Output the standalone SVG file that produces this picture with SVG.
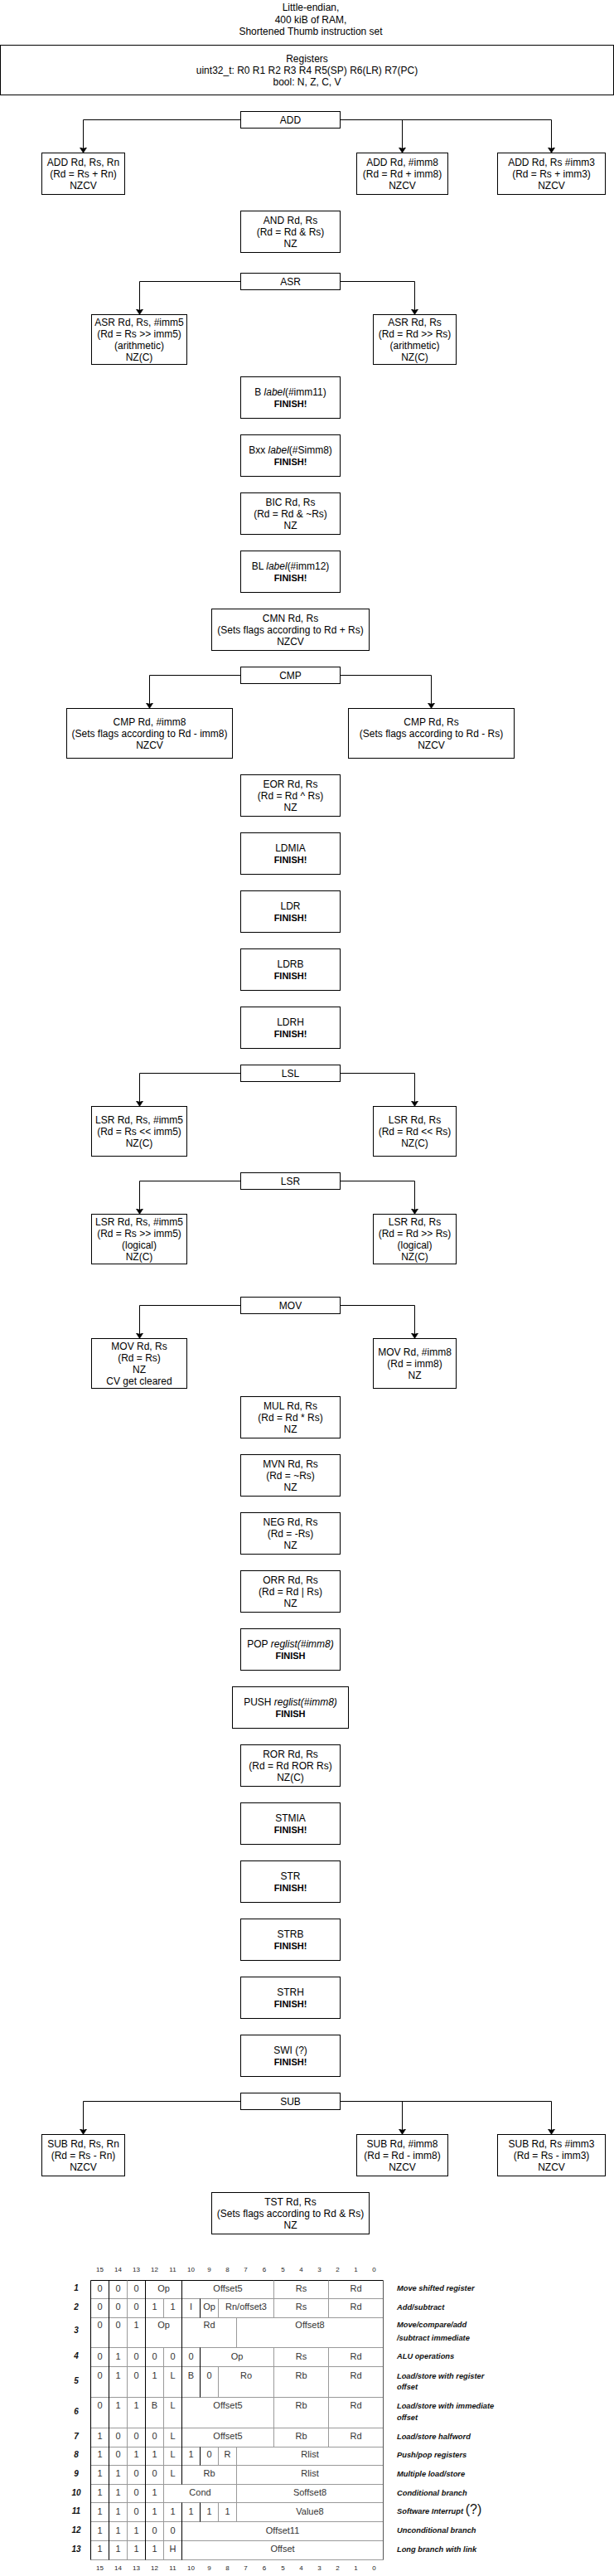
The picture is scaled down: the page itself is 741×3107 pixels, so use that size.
<svg xmlns="http://www.w3.org/2000/svg" width="741" height="3107" viewBox="0 0 741 3107">
<defs>
<marker id="arr" markerUnits="userSpaceOnUse" markerWidth="8" markerHeight="10" refX="7" refY="4.5" orient="auto">
<path d="M0,0 L7,4.5 L0,9 L1.75,4.5 Z" fill="#000" stroke="#000" stroke-width="0.5"/>
</marker>
</defs>
<style>
.box{fill:#fff;stroke:#000;stroke-width:1}
text{font-family:"Liberation Sans",Arial,sans-serif}
.t{font-size:12px;text-anchor:middle;fill:#000}
.f{font-weight:bold;font-size:11px}
.i{font-style:italic}
.conn{fill:none;stroke:#000;stroke-width:1;marker-end:url(#arr)}
.tb{fill:none;stroke:#000;stroke-width:1}
.tl{fill:none;stroke:#9a9a9a;stroke-width:1}
.tr{fill:none;stroke:#555;stroke-width:1}
.c{font-size:11px;text-anchor:middle;fill:#333}
.h{font-size:8px;text-anchor:middle;fill:#222}
.n{font-size:10px;font-weight:bold;font-style:italic;text-anchor:middle;fill:#111}
.d{font-size:9.3px;font-weight:bold;font-style:italic;fill:#111}
</style>
<rect width="741" height="3107" fill="#fff"/>

<g id="title">
<text class="t" x="375" y="13">Little-endian,</text>
<text class="t" x="375" y="27.5">400 kiB of RAM,</text>
<text class="t" x="375" y="42">Shortened Thumb instruction set</text>
</g>

<g id="registers">
<rect class="box" x="0.5" y="54.5" width="740" height="60"/>
<text class="t" x="370.5" y="74.5">Registers</text>
<text class="t" x="370.5" y="88.5">uint32_t: R0 R1 R2 R3 R4 R5(SP) R6(LR) R7(PC)</text>
<text class="t" x="370.5" y="102.5">bool: N, Z, C, V</text>
</g>

<g id="connectors">
<path class="conn" d="M290.5,144.5H100.5V184.5"/>
<path class="conn" d="M410.5,144.5H485.5V184.5"/>
<path class="conn" d="M410.5,144.5H665.5V184.5"/>
<path class="conn" d="M290.5,339.5H168.5V379.5"/>
<path class="conn" d="M410.5,339.5H500.5V379.5"/>
<path class="conn" d="M290.5,814.5H180.5V854.5"/>
<path class="conn" d="M410.5,814.5H520.5V854.5"/>
<path class="conn" d="M290.5,1294.5H168.5V1334.5"/>
<path class="conn" d="M410.5,1294.5H500.5V1334.5"/>
<path class="conn" d="M290.5,1424.5H168.5V1464.5"/>
<path class="conn" d="M410.5,1424.5H500.5V1464.5"/>
<path class="conn" d="M290.5,1574.5H168.5V1614.5"/>
<path class="conn" d="M410.5,1574.5H500.5V1614.5"/>
<path class="conn" d="M290.5,2534.5H100.5V2574.5"/>
<path class="conn" d="M410.5,2534.5H485.5V2574.5"/>
<path class="conn" d="M410.5,2534.5H665.5V2574.5"/>
</g>

<g id="add">
<rect class="box" x="290.5" y="134.5" width="120" height="20"/>
<text class="t" x="350.5" y="148.5">ADD</text>
</g>
<g id="add-rrr">
<rect class="box" x="50.5" y="184.5" width="100" height="50"/>
<text class="t" x="100.5" y="199.5">ADD Rd, Rs, Rn</text>
<text class="t" x="100.5" y="213.5">(Rd = Rs + Rn)</text>
<text class="t" x="100.5" y="227.5">NZCV</text>
</g>
<g id="add-imm8">
<rect class="box" x="430.5" y="184.5" width="110" height="50"/>
<text class="t" x="485.5" y="199.5">ADD Rd, #imm8</text>
<text class="t" x="485.5" y="213.5">(Rd = Rd + imm8)</text>
<text class="t" x="485.5" y="227.5">NZCV</text>
</g>
<g id="add-imm3">
<rect class="box" x="600.5" y="184.5" width="130" height="50"/>
<text class="t" x="665.5" y="199.5">ADD Rd, Rs #imm3</text>
<text class="t" x="665.5" y="213.5">(Rd = Rs + imm3)</text>
<text class="t" x="665.5" y="227.5">NZCV</text>
</g>

<g id="and">
<rect class="box" x="290.5" y="254.5" width="120" height="50"/>
<text class="t" x="350.5" y="269.5">AND Rd, Rs</text>
<text class="t" x="350.5" y="283.5">(Rd = Rd &amp; Rs)</text>
<text class="t" x="350.5" y="297.5">NZ</text>
</g>

<g id="asr">
<rect class="box" x="290.5" y="329.5" width="120" height="20"/>
<text class="t" x="350.5" y="343.5">ASR</text>
</g>
<g id="asr-imm5">
<rect class="box" x="110.5" y="379.5" width="115" height="60"/>
<text class="t" x="168" y="392.5">ASR Rd, Rs, #imm5</text>
<text class="t" x="168" y="406.5">(Rd = Rs &gt;&gt; imm5)</text>
<text class="t" x="168" y="420.5">(arithmetic)</text>
<text class="t" x="168" y="434.5">NZ(C)</text>
</g>
<g id="asr-rs">
<rect class="box" x="450.5" y="379.5" width="100" height="60"/>
<text class="t" x="500.5" y="392.5">ASR Rd, Rs</text>
<text class="t" x="500.5" y="406.5">(Rd = Rd &gt;&gt; Rs)</text>
<text class="t" x="500.5" y="420.5">(arithmetic)</text>
<text class="t" x="500.5" y="434.5">NZ(C)</text>
</g>

<g id="b">
<rect class="box" x="290.5" y="454.5" width="120" height="50"/>
<text class="t" x="350.5" y="476.5">B <tspan class="i">label</tspan>(#imm11)</text>
<text class="t f" x="350.5" y="490.5">FINISH!</text>
</g>
<g id="bxx">
<rect class="box" x="290.5" y="524.5" width="120" height="50"/>
<text class="t" x="350.5" y="546.5">Bxx <tspan class="i">label</tspan>(#Simm8)</text>
<text class="t f" x="350.5" y="560.5">FINISH!</text>
</g>
<g id="bic">
<rect class="box" x="290.5" y="594.5" width="120" height="50"/>
<text class="t" x="350.5" y="609.5">BIC Rd, Rs</text>
<text class="t" x="350.5" y="623.5">(Rd = Rd &amp; ~Rs)</text>
<text class="t" x="350.5" y="637.5">NZ</text>
</g>
<g id="bl">
<rect class="box" x="290.5" y="664.5" width="120" height="50"/>
<text class="t" x="350.5" y="686.5">BL <tspan class="i">label</tspan>(#imm12)</text>
<text class="t f" x="350.5" y="700.5">FINISH!</text>
</g>
<g id="cmn">
<rect class="box" x="255.5" y="734.5" width="190" height="50"/>
<text class="t" x="350.5" y="749.5">CMN Rd, Rs</text>
<text class="t" x="350.5" y="763.5">(Sets flags according to Rd + Rs)</text>
<text class="t" x="350.5" y="777.5">NZCV</text>
</g>

<g id="cmp">
<rect class="box" x="290.5" y="804.5" width="120" height="20"/>
<text class="t" x="350.5" y="818.5">CMP</text>
</g>
<g id="cmp-imm8">
<rect class="box" x="80.5" y="854.5" width="200" height="60"/>
<text class="t" x="180.5" y="874.5">CMP Rd, #imm8</text>
<text class="t" x="180.5" y="888.5">(Sets flags according to Rd - imm8)</text>
<text class="t" x="180.5" y="902.5">NZCV</text>
</g>
<g id="cmp-rs">
<rect class="box" x="420.5" y="854.5" width="200" height="60"/>
<text class="t" x="520.5" y="874.5">CMP Rd, Rs</text>
<text class="t" x="520.5" y="888.5">(Sets flags according to Rd - Rs)</text>
<text class="t" x="520.5" y="902.5">NZCV</text>
</g>

<g id="eor">
<rect class="box" x="290.5" y="934.5" width="120" height="50"/>
<text class="t" x="350.5" y="949.5">EOR Rd, Rs</text>
<text class="t" x="350.5" y="963.5">(Rd = Rd ^ Rs)</text>
<text class="t" x="350.5" y="977.5">NZ</text>
</g>
<g id="ldmia">
<rect class="box" x="290.5" y="1004.5" width="120" height="50"/>
<text class="t" x="350.5" y="1026.5">LDMIA</text>
<text class="t f" x="350.5" y="1040.5">FINISH!</text>
</g>
<g id="ldr">
<rect class="box" x="290.5" y="1074.5" width="120" height="50"/>
<text class="t" x="350.5" y="1096.5">LDR</text>
<text class="t f" x="350.5" y="1110.5">FINISH!</text>
</g>
<g id="ldrb">
<rect class="box" x="290.5" y="1144.5" width="120" height="50"/>
<text class="t" x="350.5" y="1166.5">LDRB</text>
<text class="t f" x="350.5" y="1180.5">FINISH!</text>
</g>
<g id="ldrh">
<rect class="box" x="290.5" y="1214.5" width="120" height="50"/>
<text class="t" x="350.5" y="1236.5">LDRH</text>
<text class="t f" x="350.5" y="1250.5">FINISH!</text>
</g>

<g id="lsl">
<rect class="box" x="290.5" y="1284.5" width="120" height="20"/>
<text class="t" x="350.5" y="1298.5">LSL</text>
</g>
<g id="lsl-imm5">
<rect class="box" x="110.5" y="1334.5" width="115" height="60"/>
<text class="t" x="168" y="1354.5">LSR Rd, Rs, #imm5</text>
<text class="t" x="168" y="1368.5">(Rd = Rs &lt;&lt; imm5)</text>
<text class="t" x="168" y="1382.5">NZ(C)</text>
</g>
<g id="lsl-rs">
<rect class="box" x="450.5" y="1334.5" width="100" height="60"/>
<text class="t" x="500.5" y="1354.5">LSR Rd, Rs</text>
<text class="t" x="500.5" y="1368.5">(Rd = Rd &lt;&lt; Rs)</text>
<text class="t" x="500.5" y="1382.5">NZ(C)</text>
</g>

<g id="lsr">
<rect class="box" x="290.5" y="1414.5" width="120" height="20"/>
<text class="t" x="350.5" y="1428.5">LSR</text>
</g>
<g id="lsr-imm5">
<rect class="box" x="110.5" y="1464.5" width="115" height="60"/>
<text class="t" x="168" y="1477.5">LSR Rd, Rs, #imm5</text>
<text class="t" x="168" y="1491.5">(Rd = Rs &gt;&gt; imm5)</text>
<text class="t" x="168" y="1505.5">(logical)</text>
<text class="t" x="168" y="1519.5">NZ(C)</text>
</g>
<g id="lsr-rs">
<rect class="box" x="450.5" y="1464.5" width="100" height="60"/>
<text class="t" x="500.5" y="1477.5">LSR Rd, Rs</text>
<text class="t" x="500.5" y="1491.5">(Rd = Rd &gt;&gt; Rs)</text>
<text class="t" x="500.5" y="1505.5">(logical)</text>
<text class="t" x="500.5" y="1519.5">NZ(C)</text>
</g>

<g id="mov">
<rect class="box" x="290.5" y="1564.5" width="120" height="20"/>
<text class="t" x="350.5" y="1578.5">MOV</text>
</g>
<g id="mov-rs">
<rect class="box" x="110.5" y="1614.5" width="115" height="60"/>
<text class="t" x="168" y="1627.5">MOV Rd, Rs</text>
<text class="t" x="168" y="1641.5">(Rd = Rs)</text>
<text class="t" x="168" y="1655.5">NZ</text>
<text class="t" x="168" y="1669.5">CV get cleared</text>
</g>
<g id="mov-imm8">
<rect class="box" x="450.5" y="1614.5" width="100" height="60"/>
<text class="t" x="500.5" y="1634.5">MOV Rd, #imm8</text>
<text class="t" x="500.5" y="1648.5">(Rd = imm8)</text>
<text class="t" x="500.5" y="1662.5">NZ</text>
</g>

<g id="mul">
<rect class="box" x="290.5" y="1684.5" width="120" height="50"/>
<text class="t" x="350.5" y="1699.5">MUL Rd, Rs</text>
<text class="t" x="350.5" y="1713.5">(Rd = Rd * Rs)</text>
<text class="t" x="350.5" y="1727.5">NZ</text>
</g>
<g id="mvn">
<rect class="box" x="290.5" y="1754.5" width="120" height="50"/>
<text class="t" x="350.5" y="1769.5">MVN Rd, Rs</text>
<text class="t" x="350.5" y="1783.5">(Rd = ~Rs)</text>
<text class="t" x="350.5" y="1797.5">NZ</text>
</g>
<g id="neg">
<rect class="box" x="290.5" y="1824.5" width="120" height="50"/>
<text class="t" x="350.5" y="1839.5">NEG Rd, Rs</text>
<text class="t" x="350.5" y="1853.5">(Rd = -Rs)</text>
<text class="t" x="350.5" y="1867.5">NZ</text>
</g>
<g id="orr">
<rect class="box" x="290.5" y="1894.5" width="120" height="50"/>
<text class="t" x="350.5" y="1909.5">ORR Rd, Rs</text>
<text class="t" x="350.5" y="1923.5">(Rd = Rd | Rs)</text>
<text class="t" x="350.5" y="1937.5">NZ</text>
</g>
<g id="pop">
<rect class="box" x="290.5" y="1964.5" width="120" height="50"/>
<text class="t" x="350.5" y="1986.5">POP <tspan class="i">reglist(#imm8)</tspan></text>
<text class="t f" x="350.5" y="2000.5">FINISH</text>
</g>
<g id="push">
<rect class="box" x="280.5" y="2034.5" width="140" height="50"/>
<text class="t" x="350.5" y="2056.5">PUSH <tspan class="i">reglist(#imm8)</tspan></text>
<text class="t f" x="350.5" y="2070.5">FINISH</text>
</g>
<g id="ror">
<rect class="box" x="290.5" y="2104.5" width="120" height="50"/>
<text class="t" x="350.5" y="2119.5">ROR Rd, Rs</text>
<text class="t" x="350.5" y="2133.5">(Rd = Rd ROR Rs)</text>
<text class="t" x="350.5" y="2147.5">NZ(C)</text>
</g>
<g id="stmia">
<rect class="box" x="290.5" y="2174.5" width="120" height="50"/>
<text class="t" x="350.5" y="2196.5">STMIA</text>
<text class="t f" x="350.5" y="2210.5">FINISH!</text>
</g>
<g id="str">
<rect class="box" x="290.5" y="2244.5" width="120" height="50"/>
<text class="t" x="350.5" y="2266.5">STR</text>
<text class="t f" x="350.5" y="2280.5">FINISH!</text>
</g>
<g id="strb">
<rect class="box" x="290.5" y="2314.5" width="120" height="50"/>
<text class="t" x="350.5" y="2336.5">STRB</text>
<text class="t f" x="350.5" y="2350.5">FINISH!</text>
</g>
<g id="strh">
<rect class="box" x="290.5" y="2384.5" width="120" height="50"/>
<text class="t" x="350.5" y="2406.5">STRH</text>
<text class="t f" x="350.5" y="2420.5">FINISH!</text>
</g>
<g id="swi">
<rect class="box" x="290.5" y="2454.5" width="120" height="50"/>
<text class="t" x="350.5" y="2476.5">SWI (?)</text>
<text class="t f" x="350.5" y="2490.5">FINISH!</text>
</g>

<g id="sub">
<rect class="box" x="290.5" y="2524.5" width="120" height="20"/>
<text class="t" x="350.5" y="2538.5">SUB</text>
</g>
<g id="sub-rrr">
<rect class="box" x="50.5" y="2574.5" width="100" height="50"/>
<text class="t" x="100.5" y="2589.5">SUB Rd, Rs, Rn</text>
<text class="t" x="100.5" y="2603.5">(Rd = Rs - Rn)</text>
<text class="t" x="100.5" y="2617.5">NZCV</text>
</g>
<g id="sub-imm8">
<rect class="box" x="430.5" y="2574.5" width="110" height="50"/>
<text class="t" x="485.5" y="2589.5">SUB Rd, #imm8</text>
<text class="t" x="485.5" y="2603.5">(Rd = Rd - imm8)</text>
<text class="t" x="485.5" y="2617.5">NZCV</text>
</g>
<g id="sub-imm3">
<rect class="box" x="600.5" y="2574.5" width="130" height="50"/>
<text class="t" x="665.5" y="2589.5">SUB Rd, Rs #imm3</text>
<text class="t" x="665.5" y="2603.5">(Rd = Rs - imm3)</text>
<text class="t" x="665.5" y="2617.5">NZCV</text>
</g>

<g id="tst">
<rect class="box" x="255.5" y="2644.5" width="190" height="50"/>
<text class="t" x="350.5" y="2659.5">TST Rd, Rs</text>
<text class="t" x="350.5" y="2673.5">(Sets flags according to Rd &amp; Rs)</text>
<text class="t" x="350.5" y="2687.5">NZ</text>
</g>

<g id="thumb-table">
<g id="bits-top">
<text class="h" x="120.5" y="2739.6">15</text><text class="h" x="142.5" y="2739.6">14</text><text class="h" x="164.5" y="2739.6">13</text><text class="h" x="186.5" y="2739.6">12</text><text class="h" x="208.5" y="2739.6">11</text><text class="h" x="230.5" y="2739.6">10</text><text class="h" x="252.5" y="2739.6">9</text><text class="h" x="274.5" y="2739.6">8</text><text class="h" x="296.5" y="2739.6">7</text><text class="h" x="319" y="2739.6">6</text><text class="h" x="341.5" y="2739.6">5</text><text class="h" x="363.5" y="2739.6">4</text><text class="h" x="385.5" y="2739.6">3</text><text class="h" x="407.5" y="2739.6">2</text><text class="h" x="429.5" y="2739.6">1</text><text class="h" x="451.5" y="2739.6">0</text>
</g>
<g id="bits-bottom">
<text class="h" x="120.5" y="3100.2">15</text><text class="h" x="142.5" y="3100.2">14</text><text class="h" x="164.5" y="3100.2">13</text><text class="h" x="186.5" y="3100.2">12</text><text class="h" x="208.5" y="3100.2">11</text><text class="h" x="230.5" y="3100.2">10</text><text class="h" x="252.5" y="3100.2">9</text><text class="h" x="274.5" y="3100.2">8</text><text class="h" x="296.5" y="3100.2">7</text><text class="h" x="319" y="3100.2">6</text><text class="h" x="341.5" y="3100.2">5</text><text class="h" x="363.5" y="3100.2">4</text><text class="h" x="385.5" y="3100.2">3</text><text class="h" x="407.5" y="3100.2">2</text><text class="h" x="429.5" y="3100.2">1</text><text class="h" x="451.5" y="3100.2">0</text>
</g>
<g id="grid">
<path class="tl" d="M109.5,2772.5H462.5M109.5,2795.5H462.5M109.5,2831.5H462.5M109.5,2854.5H462.5M109.5,2891.5H462.5M109.5,2928.5H462.5M109.5,2951.5H462.5M109.5,2973.5H462.5M109.5,2996.5H462.5M109.5,3018.5H462.5M109.5,3041.5H462.5M109.5,3064.5H462.5M109.5,3087.5H462.5"/>
<path class="tb" d="M109.5,2750.5H462.5"/>
<path class="tb" d="M109.5,2750.5V3087.5M131.5,2750.5V3087.5M175.5,2750.5V3087.5M219.5,2750.5V2996.5M219.5,3018.5V3087.5M241.5,2772.5V2795.5M241.5,2831.5V2891.5M241.5,2951.5V2973.5M241.5,3018.5V3041.5"/>
<path class="tl" d="M153.5,2750.5V3087.5M197.5,2772.5V2795.5M197.5,2831.5V3087.5M263.5,2772.5V2795.5M263.5,2854.5V2891.5M263.5,2951.5V2973.5M263.5,3018.5V3041.5M285.5,2795.5V2831.5M285.5,2951.5V3041.5M330.5,2750.5V2795.5M330.5,2831.5V2951.5M396.5,2750.5V2795.5M396.5,2831.5V2951.5"/>
<path class="tr" d="M462.5,2750.5V3087.5"/>
</g>
<g id="row-numbers">
<text class="n" x="92" y="2763">1</text>
<text class="n" x="92" y="2786">2</text>
<text class="n" x="92" y="2814.3">3</text>
<text class="n" x="92" y="2845.3">4</text>
<text class="n" x="92" y="2875.3">5</text>
<text class="n" x="92" y="2912">6</text>
<text class="n" x="92" y="2942">7</text>
<text class="n" x="92" y="2964">8</text>
<text class="n" x="92" y="2987">9</text>
<text class="n" x="92" y="3009.7">10</text>
<text class="n" x="92" y="3032.4">11</text>
<text class="n" x="92" y="3055.4">12</text>
<text class="n" x="92" y="3078">13</text>
</g>
<g id="cells">
<text class="c" x="120.5" y="2763.5">0</text><text class="c" x="142.5" y="2763.5">0</text><text class="c" x="164.5" y="2763.5">0</text><text class="c" x="197.5" y="2763.5">Op</text><text class="c" x="275" y="2763.5">Offset5</text><text class="c" x="363.5" y="2763.5">Rs</text><text class="c" x="429.5" y="2763.5">Rd</text>
<text class="c" x="120.5" y="2786.3">0</text><text class="c" x="142.5" y="2786.3">0</text><text class="c" x="164.5" y="2786.3">0</text><text class="c" x="186.5" y="2786.3">1</text><text class="c" x="208.5" y="2786.3">1</text><text class="c" x="230.5" y="2786.3">I</text><text class="c" x="252.5" y="2786.3">Op</text><text class="c" x="297" y="2786.3">Rn/offset3</text><text class="c" x="363.5" y="2786.3">Rs</text><text class="c" x="429.5" y="2786.3">Rd</text>
<text class="c" x="120.5" y="2807.7">0</text><text class="c" x="142.5" y="2807.7">0</text><text class="c" x="164.5" y="2807.7">1</text><text class="c" x="197.5" y="2807.7">Op</text><text class="c" x="252.5" y="2807.7">Rd</text><text class="c" x="374" y="2807.7">Offset8</text>
<text class="c" x="120.5" y="2845.7">0</text><text class="c" x="142.5" y="2845.7">1</text><text class="c" x="164.5" y="2845.7">0</text><text class="c" x="186.5" y="2845.7">0</text><text class="c" x="208.5" y="2845.7">0</text><text class="c" x="230.5" y="2845.7">0</text><text class="c" x="286" y="2845.7">Op</text><text class="c" x="363.5" y="2845.7">Rs</text><text class="c" x="429.5" y="2845.7">Rd</text>
<text class="c" x="120.5" y="2869">0</text><text class="c" x="142.5" y="2869">1</text><text class="c" x="164.5" y="2869">0</text><text class="c" x="186.5" y="2869">1</text><text class="c" x="208.5" y="2869">L</text><text class="c" x="230.5" y="2869">B</text><text class="c" x="252.5" y="2869">0</text><text class="c" x="297" y="2869">Ro</text><text class="c" x="363.5" y="2869">Rb</text><text class="c" x="429.5" y="2869">Rd</text>
<text class="c" x="120.5" y="2905">0</text><text class="c" x="142.5" y="2905">1</text><text class="c" x="164.5" y="2905">1</text><text class="c" x="186.5" y="2905">B</text><text class="c" x="208.5" y="2905">L</text><text class="c" x="275" y="2905">Offset5</text><text class="c" x="363.5" y="2905">Rb</text><text class="c" x="429.5" y="2905">Rd</text>
<text class="c" x="120.5" y="2942.3">1</text><text class="c" x="142.5" y="2942.3">0</text><text class="c" x="164.5" y="2942.3">0</text><text class="c" x="186.5" y="2942.3">0</text><text class="c" x="208.5" y="2942.3">L</text><text class="c" x="275" y="2942.3">Offset5</text><text class="c" x="363.5" y="2942.3">Rb</text><text class="c" x="429.5" y="2942.3">Rd</text>
<text class="c" x="120.5" y="2964.3">1</text><text class="c" x="142.5" y="2964.3">0</text><text class="c" x="164.5" y="2964.3">1</text><text class="c" x="186.5" y="2964.3">1</text><text class="c" x="208.5" y="2964.3">L</text><text class="c" x="230.5" y="2964.3">1</text><text class="c" x="252.5" y="2964.3">0</text><text class="c" x="274.5" y="2964.3">R</text><text class="c" x="374" y="2964.3">Rlist</text>
<text class="c" x="120.5" y="2987.3">1</text><text class="c" x="142.5" y="2987.3">1</text><text class="c" x="164.5" y="2987.3">0</text><text class="c" x="186.5" y="2987.3">0</text><text class="c" x="208.5" y="2987.3">L</text><text class="c" x="252.5" y="2987.3">Rb</text><text class="c" x="374" y="2987.3">Rlist</text>
<text class="c" x="120.5" y="3010">1</text><text class="c" x="142.5" y="3010">1</text><text class="c" x="164.5" y="3010">0</text><text class="c" x="186.5" y="3010">1</text><text class="c" x="241.5" y="3010">Cond</text><text class="c" x="374" y="3010">Soffset8</text>
<text class="c" x="120.5" y="3032.7">1</text><text class="c" x="142.5" y="3032.7">1</text><text class="c" x="164.5" y="3032.7">0</text><text class="c" x="186.5" y="3032.7">1</text><text class="c" x="208.5" y="3032.7">1</text><text class="c" x="230.5" y="3032.7">1</text><text class="c" x="252.5" y="3032.7">1</text><text class="c" x="274.5" y="3032.7">1</text><text class="c" x="374" y="3032.7">Value8</text>
<text class="c" x="120.5" y="3055.7">1</text><text class="c" x="142.5" y="3055.7">1</text><text class="c" x="164.5" y="3055.7">1</text><text class="c" x="186.5" y="3055.7">0</text><text class="c" x="208.5" y="3055.7">0</text><text class="c" x="341" y="3055.7">Offset11</text>
<text class="c" x="120.5" y="3078.3">1</text><text class="c" x="142.5" y="3078.3">1</text><text class="c" x="164.5" y="3078.3">1</text><text class="c" x="186.5" y="3078.3">1</text><text class="c" x="208.5" y="3078.3">H</text><text class="c" x="341" y="3078.3">Offset</text>
</g>
<g id="descriptions">
<text class="d" x="479" y="2762.8">Move shifted register</text>
<text class="d" x="479" y="2785.8">Add/subtract</text>
<text class="d" x="479" y="2807.2">Move/compare/add</text>
<text class="d" x="479" y="2822.8">/subtract immediate</text>
<text class="d" x="479" y="2845.2">ALU operations</text>
<text class="d" x="479" y="2868.5">Load/store with register</text>
<text class="d" x="479" y="2882.2">offset</text>
<text class="d" x="479" y="2904.5">Load/store with immediate</text>
<text class="d" x="479" y="2919.2">offset</text>
<text class="d" x="479" y="2941.8">Load/store halfword</text>
<text class="d" x="479" y="2963.8">Push/pop registers</text>
<text class="d" x="479" y="2986.8">Multiple load/store</text>
<text class="d" x="479" y="3009.5">Conditional branch</text>
<text class="d" x="479" y="3032.2">Software Interrupt <tspan style="font-size:16px;font-weight:normal;font-style:normal">(?)</tspan></text>
<text class="d" x="479" y="3055.2">Unconditional branch</text>
<text class="d" x="479" y="3077.8">Long branch with link</text>
</g>
</g>
</svg>
